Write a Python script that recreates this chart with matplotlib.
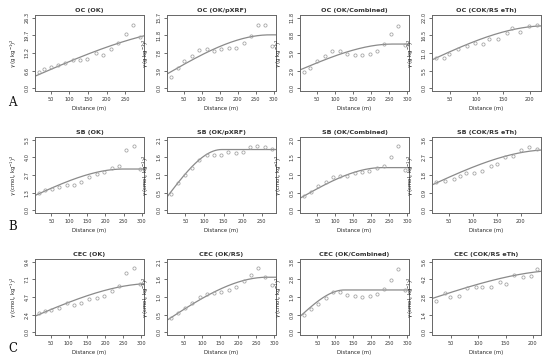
import numpy as np
import matplotlib
matplotlib.use("Agg")
import matplotlib.pyplot as plt

# ---- semivariogram data ----
titles = ["OC (OK)", "OC (OK/pXRF)", "OC (OK/Combined)", "OC (COK/RS eTh)",
          "SB (OK)", "SB (OK/pXRF)", "SB (OK/Combined)", "SB (COK/RS eTh)",
          "CEC (OK)", "CEC (OK/RS)", "CEC (OK/Combined)", "CEC (COK/RS eTh)"]

h_oc_ok = [18.7, 33, 50, 70.5, 88.4, 109, 128.6, 148, 170.5, 189, 210.7, 231, 252, 271, 289]
g_oc_ok = [6.0, 7.2, 7.95, 8.56, 9.54, 10.4, 10.4, 10.76, 13.1, 12.5, 14.7, 16.8, 20.4, 23.8, 19.0]

h_oc_pxrf = [14.8, 33.3, 51.9, 72.2, 93.5, 114.8, 134.3, 153.7, 176.9, 195.4, 216.7, 237, 257.4, 276.9, 295.4]
g_oc_pxrf = [2.49, 4.40, 6.02, 7.26, 8.51, 8.80, 8.36, 8.80, 8.88, 8.88, 10.12, 11.74, 14.09, 14.09, 9.46]

h_oc_comb = [13.9, 31.5, 50.9, 71.3, 91.7, 113, 133.3, 154.6, 175, 196.3, 214.8, 234.3, 254.6, 275, 293.5]
g_oc_comb = [2.68, 3.38, 4.51, 5.47, 6.28, 6.28, 5.79, 5.63, 5.63, 5.69, 6.17, 7.35, 9.12, 10.46, 7.19]

h_oc_cok = [23.8, 39.4, 48.8, 65.6, 81.9, 97.5, 111.3, 123.8, 140.6, 156.9, 166.3, 181.9, 198.8, 213.1]
g_oc_cok = [9.46, 9.46, 10.8, 12.2, 13.1, 14.1, 13.7, 15.3, 15.4, 17.1, 18.7, 17.7, 19.5, 19.7]

h_sb_ok = [16.1, 32.6, 50.9, 71.1, 94, 114.1, 133.4, 155.3, 176.4, 196.6, 217.6, 237.8, 257, 279, 295.5]
g_sb_ok = [1.32, 1.49, 1.57, 1.72, 1.92, 1.87, 2.16, 2.51, 2.74, 2.91, 3.16, 3.36, 4.55, 4.80, 3.11]

h_sb_pxrf = [12.3, 29.8, 49.1, 67.5, 86.8, 107, 124.5, 143.8, 163.1, 181.6, 200.8, 220.1, 238.6, 257.9, 277.2]
g_sb_pxrf = [0.49, 0.80, 1.05, 1.27, 1.51, 1.64, 1.64, 1.64, 1.74, 1.71, 1.74, 1.89, 1.93, 1.90, 1.83]

h_sb_comb = [13, 31.5, 50.9, 73.1, 92.6, 113, 133.3, 154.6, 175, 194.4, 214.8, 235.2, 254.6, 275, 293.5]
g_sb_comb = [0.40, 0.52, 0.69, 0.81, 0.94, 0.97, 0.98, 1.05, 1.09, 1.11, 1.19, 1.26, 1.50, 1.82, 1.14]

h_sb_cok = [23.5, 41.6, 60.5, 74.4, 84.9, 102.3, 119.8, 137.2, 151.2, 166.5, 182.6, 200, 217.4, 233.5]
g_sb_cok = [1.44, 1.49, 1.61, 1.73, 1.89, 1.91, 2.01, 2.24, 2.36, 2.72, 2.75, 3.07, 3.23, 3.15]

h_cec_ok = [18.1, 33.6, 51.8, 72.8, 95.6, 113.9, 133.9, 156.8, 176.8, 196, 217.9, 238.9, 258.9, 280, 296.3]
g_cec_ok = [2.54, 2.89, 2.97, 3.28, 3.85, 3.63, 3.85, 4.37, 4.50, 4.81, 5.47, 6.12, 7.91, 8.57, 6.47]

h_cec_rs = [15.1, 33.5, 52.8, 73, 94.1, 114.3, 134.5, 153.8, 174, 195.2, 215.4, 235.6, 254.9, 275.2, 293.5]
g_cec_rs = [0.41, 0.56, 0.71, 0.88, 1.05, 1.15, 1.17, 1.20, 1.26, 1.36, 1.54, 1.71, 1.92, 1.64, 1.42]

h_cec_comb = [13, 31.5, 51.9, 73.1, 93.5, 113, 133.3, 153.7, 173.1, 195.4, 214.8, 235.2, 255.6, 275, 293.5]
g_cec_comb = [0.95, 1.25, 1.53, 1.84, 2.18, 2.18, 2.02, 1.94, 1.91, 1.93, 2.05, 2.32, 2.82, 3.43, 2.28]

h_cec_cok = [23.2, 39.6, 48.8, 65.2, 80.5, 95.7, 106.7, 123.2, 139, 151.2, 165.9, 181.1, 196.3, 207.3]
g_cec_cok = [2.49, 3.14, 2.80, 2.88, 3.53, 3.58, 3.63, 3.58, 3.97, 3.84, 4.54, 4.43, 4.49, 5.00]

lags = [h_oc_ok, h_oc_pxrf, h_oc_comb, h_oc_cok,
        h_sb_ok, h_sb_pxrf, h_sb_comb, h_sb_cok,
        h_cec_ok, h_cec_rs, h_cec_comb, h_cec_cok]
gammas = [g_oc_ok, g_oc_pxrf, g_oc_comb, g_oc_cok,
          g_sb_ok, g_sb_pxrf, g_sb_comb, g_sb_cok,
          g_cec_ok, g_cec_rs, g_cec_comb, g_cec_cok]

# spherical model fits: nugget, partial sill, range
nugget = [4.0, 3.0, 3.0, 7.6, 1.05, 0.37, 0.33, 1.12, 2.0, 0.33, 0.82, 2.45]
psill = [18.5, 8.9, 4.4, 11.9, 2.05, 1.44, 0.88, 1.97, 4.5, 1.31, 1.46, 2.5]
vrange = [458, 290, 260, 230, 250, 145, 230, 260, 330, 280, 125, 260]

# y axis tick labels (top value is the y max)
ytick_labels = [["0.0", "6.6", "13.2", "19.7", "26.3"],
                ["0.0", "3.9", "7.8", "11.8", "15.7"],
                ["0.0", "2.9", "5.9", "8.8", "11.8"],
                ["0.0", "5.5", "11.0", "16.5", "22.0"],
                ["0.0", "1.3", "2.7", "4.0", "5.3"],
                ["0.0", "0.5", "1.0", "1.6", "2.1"],
                ["0.0", "0.5", "1.0", "1.5", "2.0"],
                ["0.0", "0.9", "1.8", "2.7", "3.6"],
                ["0.0", "2.4", "4.7", "7.1", "9.4"],
                ["0.0", "0.5", "1.0", "1.6", "2.1"],
                ["0.0", "0.9", "1.9", "2.8", "3.8"],
                ["0.0", "1.4", "2.8", "4.2", "5.6"]]

xtick_vals = [50, 100, 150, 200, 250, 300]
row_letters = ["A", "B", "C"]
ylab_oc = r"$\gamma$ (g kg$^{-1}$)$^2$"
ylab_cmol = r"$\gamma$ (cmol$_c$ kg$^{-1}$)$^2$"


def spherical(h, c0, c, a):
    h = np.asarray(h)
    r = np.minimum(h / a, 1.0)
    return c0 + c * (1.5 * r - 0.5 * r ** 3)


W, H = 550, 361
fig = plt.figure(figsize=(W / 100, H / 100), dpi=100)
fig.patch.set_facecolor("white")

lefts = [35, 167, 300, 432]
tops = [15, 137, 259]
aw, ah = 109, 76

for i in range(12):
    row, col = divmod(i, 4)
    ax = fig.add_axes([lefts[col] / W, 1 - (tops[row] + ah) / H, aw / W, ah / H])
    h = np.array(lags[i])
    g = np.array(gammas[i])
    span = h.max() - h.min()
    xlo, xhi = h.min() - 0.04 * span, h.max() + 0.04 * span
    ytop = float(ytick_labels[i][-1])
    yt = np.linspace(0, ytop, 5)

    xs = np.linspace(xlo, xhi, 300)
    ax.plot(xs, spherical(xs, nugget[i], psill[i], vrange[i]), color="#8a8a8a", lw=0.9)
    ax.plot(h, g, "o", ms=2.3, mfc="none", mec="#a0a0a0", mew=0.55)

    ax.set_xlim(xlo, xhi)
    ax.set_ylim(-0.04 * ytop, 1.04 * ytop)
    ax.set_xticks([v for v in xtick_vals if xlo <= v <= xhi])
    ax.set_yticks(yt)
    ax.set_yticklabels(ytick_labels[i], rotation=90, va="center")
    ax.tick_params(labelsize=3.6, length=2, width=0.5, pad=2, colors="#333333")
    for s in ax.spines.values():
        s.set_linewidth(0.7)
        s.set_color("#666666")
    ax.set_title(titles[i], fontsize=4.6, fontweight="bold", pad=2.5, color="#333333")
    ax.set_xlabel("Distance (m)", fontsize=3.8, labelpad=3, color="#222222")
    ax.set_ylabel(ylab_oc if row == 0 else ylab_cmol, fontsize=3.8, labelpad=4, color="#222222")

for row, letter in enumerate(row_letters):
    y_px = [103, 226, 349][row]
    fig.text(8 / W, 1 - y_px / H, letter, fontsize=8.5, family="DejaVu Serif",
             va="center", ha="left", color="#111111")

fig.savefig("out.png", dpi=100, facecolor="white")
